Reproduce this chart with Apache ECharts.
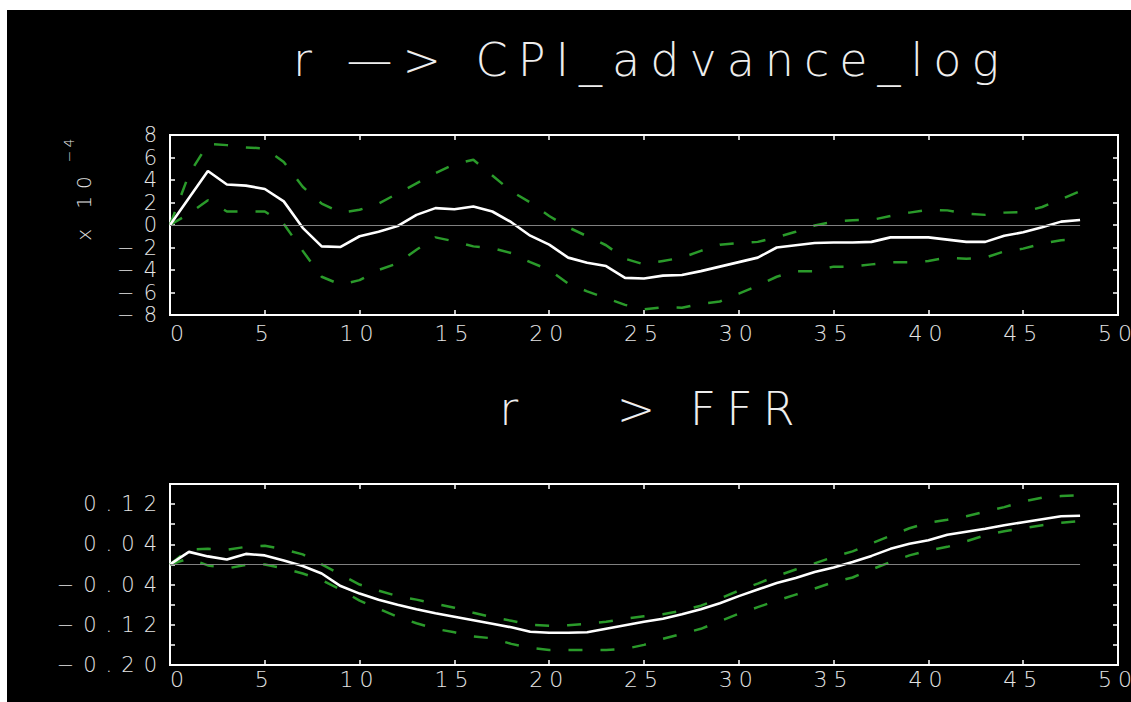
<!DOCTYPE html>
<html><head><meta charset="utf-8">
<script src="https://cdn.jsdelivr.net/npm/echarts@6/dist/echarts.min.js"></script>
<style>
html,body{margin:0;padding:0;background:#fff;width:1131px;height:702px;overflow:hidden}
#chart{position:absolute;left:7px;top:10px;width:1124px;height:692px;background:#000}
#chart text[style*="46px"]{letter-spacing:10px}
#chart text[style*="22px"]{letter-spacing:6px}
#chart text[style*="21px"]{letter-spacing:9px}
#chart text[style*="20px"]{letter-spacing:7px}
#chart text[style*="14px"]{letter-spacing:3px}
</style></head><body><div id="chart"></div>
<script>
// ---- data ----
const titles = ['r —> CPI_advance_log', 'r\u00a0\u00a0\u00a0\u200a> FFR'];
const cpiScaleLabel = 'x 10';
const cpiScaleExp = '−4';
const lags = [0,1,2,3,4,5,6,7,8,9,10,11,12,13,14,15,16,17,18,19,20,21,22,23,24,25,26,27,28,29,30,31,32,33,34,35,36,37,38,39,40,41,42,43,44,45,46,47,48];
// CPI response, in units of 1e-4
const cpiResponse = [0,2.4,4.8,3.6,3.5,3.2,2.1,-0.25,-1.9,-1.95,-1.0,-0.6,-0.1,0.9,1.5,1.4,1.65,1.2,0.25,-0.95,-1.75,-2.9,-3.35,-3.65,-4.7,-4.75,-4.5,-4.45,-4.1,-3.7,-3.3,-2.9,-2.0,-1.8,-1.6,-1.55,-1.55,-1.5,-1.1,-1.1,-1.1,-1.3,-1.5,-1.5,-0.95,-0.65,-0.2,0.3,0.45];
const cpiUpper = [0,4.5,7.2,7.1,6.9,6.8,5.6,3.4,1.9,1.1,1.35,1.9,2.8,3.7,4.6,5.4,5.8,4.4,3.0,2.0,0.8,-0.2,-1.0,-1.8,-3.0,-3.5,-3.2,-2.9,-2.3,-1.75,-1.6,-1.5,-1.1,-0.6,-0.05,0.3,0.43,0.45,0.8,1.1,1.35,1.3,1.0,0.9,1.1,1.15,1.6,2.3,3.0];
const cpiLower = [0,1.0,2.2,1.2,1.2,1.2,0.1,-2.3,-4.6,-5.3,-4.9,-4.0,-3.4,-2.2,-1.1,-1.45,-1.9,-2.05,-2.5,-3.3,-4.0,-5.2,-5.9,-6.5,-7.1,-7.5,-7.3,-7.35,-7.0,-6.8,-6.1,-5.4,-4.6,-4.1,-4.1,-3.7,-3.7,-3.5,-3.3,-3.3,-3.2,-2.9,-3.0,-2.9,-2.35,-2.1,-1.65,-1.35,-1.3];
const ffrResponse = [0,0.025,0.016,0.01,0.021,0.018,0.008,-0.003,-0.018,-0.043,-0.058,-0.07,-0.08,-0.089,-0.097,-0.104,-0.111,-0.118,-0.125,-0.134,-0.136,-0.136,-0.135,-0.128,-0.121,-0.114,-0.108,-0.099,-0.089,-0.077,-0.063,-0.05,-0.037,-0.027,-0.015,-0.006,0.005,0.017,0.031,0.041,0.048,0.059,0.065,0.071,0.078,0.084,0.09,0.096,0.097];
const ffrUpper = [0,0.03,0.031,0.029,0.035,0.037,0.03,0.02,0.0,-0.02,-0.04,-0.052,-0.063,-0.07,-0.078,-0.086,-0.096,-0.105,-0.112,-0.12,-0.122,-0.121,-0.118,-0.114,-0.108,-0.103,-0.099,-0.092,-0.082,-0.068,-0.052,-0.038,-0.023,-0.01,0.002,0.015,0.026,0.042,0.057,0.072,0.083,0.089,0.096,0.105,0.114,0.125,0.133,0.136,0.138];
const ffrLower = [0,0.012,-0.002,-0.008,-0.001,0.0,-0.008,-0.018,-0.031,-0.05,-0.072,-0.088,-0.104,-0.117,-0.128,-0.135,-0.143,-0.147,-0.158,-0.166,-0.17,-0.17,-0.17,-0.17,-0.168,-0.16,-0.148,-0.138,-0.128,-0.113,-0.098,-0.085,-0.072,-0.06,-0.048,-0.035,-0.026,-0.01,0.005,0.018,0.028,0.035,0.046,0.058,0.066,0.072,0.078,0.083,0.086];
const ffrLabelValues = [-0.20,-0.12,-0.04,0.04,0.12];

// ---- chart ----
const FONT = '"DejaVu Sans", sans-serif';
const LABEL = '#e4e4e4';
const chart = echarts.init(document.getElementById('chart'), null, {renderer: 'svg'});
const pair = ys => lags.map((t, i) => [t, ys[i]]);
const minus = s => String(s).replace('-', '\u2212');

function xAx(g, pos, show, margin) {
  return {type: 'value', gridIndex: g, position: pos, min: 0, max: 50, interval: 5,
    axisLine: {show: false, onZero: false}, splitLine: {show: false},
    axisTick: {show: true, inside: true, length: 5, lineStyle: {color: '#fff', width: 1.5}},
    axisLabel: {show: show, color: LABEL, fontFamily: FONT, fontSize: 22, fontWeight: 200, margin: margin, alignMinLabel: 'left'}};
}
function yAx(g, pos, show, min, max, interval, fmt) {
  return {type: 'value', gridIndex: g, position: pos, min: min, max: max, interval: interval,
    axisLine: {show: false, onZero: false}, splitLine: {show: false},
    axisTick: {show: true, inside: true, length: 5, lineStyle: {color: '#fff', width: 1.5}},
    axisLabel: {show: show, color: LABEL, fontFamily: FONT, fontSize: 21, fontWeight: 200, margin: 4, formatter: fmt}};
}
const green = {color: '#2a9a2a', width: 2.5, type: [14, 18]};
function band(xi, ys) {
  return {type: 'line', xAxisIndex: xi, yAxisIndex: xi, data: pair(ys), symbol: 'none', silent: true,
    lineStyle: green, z: 2, emphasis: {disabled: true}};
}
function resp(xi, ys) {
  return {type: 'line', xAxisIndex: xi, yAxisIndex: xi, data: pair(ys), symbol: 'none', silent: true,
    lineStyle: {color: '#fff', width: 2.6}, z: 3, emphasis: {disabled: true},
    markLine: {silent: true, symbol: ['none', 'none'], label: {show: false}, animation: false,
      lineStyle: {color: '#808080', width: 1.2, type: 'solid'},
      data: [[{coord: [lags[0], 0]}, {coord: [lags[lags.length - 1], 0]}]]}};
}

chart.setOption({
  backgroundColor: '#000',
  animation: false,
  grid: [
    {left: 163, top: 125, width: 948, height: 180, show: true, borderColor: '#fff', borderWidth: 2, backgroundColor: 'transparent', containLabel: false, outerBoundsMode: 'none'},
    {left: 163, top: 474, width: 948, height: 181, show: true, borderColor: '#fff', borderWidth: 2, backgroundColor: 'transparent', containLabel: false, outerBoundsMode: 'none'}
  ],
  xAxis: [xAx(0, 'bottom', true, 7), xAx(1, 'bottom', true, 3), xAx(0, 'top', false, 0), xAx(1, 'top', false, 0)],
  yAxis: [
    yAx(0, 'left', true, -8, 8, 2, v => minus(v)),
    yAx(1, 'left', true, -0.2, 0.16, 0.04, v => ffrLabelValues.some(l => Math.abs(l - v) < 1e-9) ? (v < 0 ? '\u2212' : '') + Math.abs(v).toFixed(2) : ''),
    yAx(0, 'right', false, -8, 8, 2),
    yAx(1, 'right', false, -0.2, 0.16, 0.04)
  ],
  series: [band(0, cpiUpper), band(0, cpiLower), resp(0, cpiResponse),
           band(1, ffrUpper), band(1, ffrLower), resp(1, ffrResponse)],
  graphic: [
    {type: 'text', x: 644, y: 50, silent: true, style: {text: titles[0], fill: '#eee', font: '200 46px "DejaVu Sans", sans-serif', textAlign: 'center', verticalAlign: 'middle', textVerticalAlign: 'middle'}},
    {type: 'text', x: 645, y: 399, silent: true, style: {text: titles[1], fill: '#eee', font: '200 46px "DejaVu Sans", sans-serif', textAlign: 'center', verticalAlign: 'middle', textVerticalAlign: 'middle'}},
    {type: 'text', x: 77, y: 195, rotation: Math.PI / 2, silent: true, style: {text: cpiScaleLabel, fill: LABEL, font: '200 20px "DejaVu Sans", sans-serif', textAlign: 'center', verticalAlign: 'middle', textVerticalAlign: 'middle'}},
    {type: 'text', x: 62, y: 139, rotation: Math.PI / 2, silent: true, style: {text: cpiScaleExp, fill: LABEL, font: '200 14px "DejaVu Sans", sans-serif', textAlign: 'center', verticalAlign: 'middle', textVerticalAlign: 'middle'}}
  ]
});
</script></body></html>
